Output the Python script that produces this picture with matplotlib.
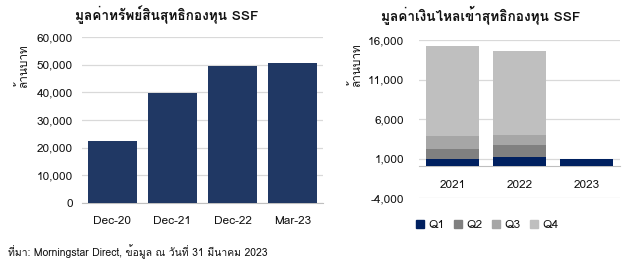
import matplotlib
matplotlib.use("Agg")
import matplotlib.pyplot as plt
from matplotlib import font_manager as fm
from matplotlib.ft2font import FT2Font
from matplotlib.patches import Patch
from matplotlib.ticker import FuncFormatter

# find a font with Thai glyphs
thai = None
for f in fm.fontManager.ttflist:
    try:
        if 0x0E21 in FT2Font(f.fname).get_charmap():
            thai = f.name
            break
    except Exception:
        pass
fam = ([thai] if thai else []) + ['DejaVu Sans']
plt.rcParams['font.family'] = fam

# data
aum_labels = ['Dec-20', 'Dec-21', 'Dec-22', 'Mar-23']
aum_values = [22300, 39800, 49600, 50600]

years = ['2021', '2022', '2023']
q1 = [880, 1130, 1000]
q2 = [1260, 1520, 0]
q3 = [1690, 1300, 0]
q4 = [11350, 10720, 0]

left_title = 'มูลค่าทรัพย์สินสุทธิกองทุน SSF'
right_title = 'มูลค่าเงินไหลเข้าสุทธิกองทุน SSF'
ylab = 'ล้านบาท'
source = 'ที่มา: Morningstar Direct, ข้อมูล ณ วันที่ 31 มีนาคม 2023'

W, H = 640, 263
fig = plt.figure(figsize=(W / 100, H / 100), dpi=100)

def fx(x): return x / W
def fy(y): return 1 - y / H

grid_c = '#D9D9D9'
txt_c = '#111111'
fs = 8.5

fmt = FuncFormatter(lambda v, p: f'{int(v):,}')

# left chart
axL = fig.add_axes([fx(82), fy(203), fx(323) - fx(82), fy(37) - fy(203)])
axL.bar(range(len(aum_labels)), aum_values, width=0.81, color='#203864', zorder=3)
axL.set_xlim(-0.5, len(aum_labels) - 0.5)
axL.set_ylim(0, 60000)
axL.set_yticks(range(0, 60001, 10000))
axL.yaxis.set_major_formatter(fmt)
axL.set_xticks(range(len(aum_labels)))
axL.set_xticklabels(aum_labels)
axL.grid(axis='y', color=grid_c, lw=0.9, zorder=0)
for s in ['top', 'right', 'left']:
    axL.spines[s].set_visible(False)
axL.spines['bottom'].set_color('#BFBFBF')
axL.tick_params(axis='both', length=0, labelsize=fs, colors=txt_c)
axL.tick_params(axis='x', pad=9)
axL.tick_params(axis='y', pad=6.5)

# right chart
axR = fig.add_axes([fx(419), fy(198), fx(620) - fx(419), fy(40) - fy(198)])
x = range(len(years))
colors = ['#002060', '#808080', '#A6A6A6', '#BFBFBF']
bottom = [0] * len(years)
for vals, c in zip([q1, q2, q3, q4], colors):
    axR.bar(x, vals, bottom=bottom, width=0.80, color=c, zorder=3)
    bottom = [b + v for b, v in zip(bottom, vals)]
axR.set_xlim(-0.5, len(years) - 0.5)
axR.set_ylim(-4000, 16000)
axR.set_yticks(range(-4000, 16001, 5000))
axR.yaxis.set_major_formatter(fmt)
axR.set_xticks(list(x))
axR.set_xticklabels(years)
axR.grid(axis='y', color=grid_c, lw=0.9, zorder=0)
for s in ['top', 'right', 'left']:
    axR.spines[s].set_visible(False)
axR.spines['bottom'].set_position(('data', 0))
axR.spines['bottom'].set_color('#BFBFBF')
axR.tick_params(axis='both', length=0, labelsize=fs, colors=txt_c)
axR.tick_params(axis='x', pad=10)
axR.tick_params(axis='y', pad=10.5)

# titles
fig.text(fx(167), fy(15), left_title, ha='center', va='center', fontsize=9.8,
         fontweight='bold', color=txt_c)
fig.text(fx(481), fy(15), right_title, ha='center', va='center', fontsize=9.8,
         fontweight='bold', color=txt_c)
fig.text(fx(22), fy(66), ylab, ha='center', va='center', rotation=90,
         fontsize=fs, color=txt_c)
fig.text(fx(355), fy(65), ylab, ha='center', va='center', rotation=90,
         fontsize=fs, color=txt_c)

# legend
handles = [Patch(color=c, label=f'Q{i+1}') for i, c in enumerate(colors)]
fig.legend(handles=handles, loc='center left', bbox_to_anchor=(fx(416), fy(225)),
           ncol=4, frameon=False, fontsize=fs, handlelength=0.65, handleheight=0.65,
           handletextpad=0.4, columnspacing=0.8, labelcolor=txt_c,
           borderpad=0, borderaxespad=0)

fig.text(fx(8), fy(252), source, ha='left', va='center', fontsize=7.5, color=txt_c)

fig.savefig('out.png', dpi=100)
